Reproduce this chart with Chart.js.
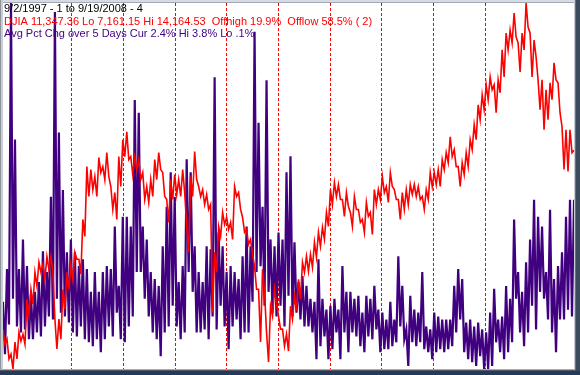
<!DOCTYPE html>
<html>
<head>
<meta charset="utf-8">
<script src="https://cdn.jsdelivr.net/npm/chart.js@4/dist/chart.umd.min.js"></script>
<style>
  html, body { margin: 0; padding: 0; background: #ffffff; }
  #wrap { width: 580px; height: 375px; }
</style>
</head>
<body>
<div id="wrap"><canvas id="chart" width="580" height="375"></canvas></div>
<script>
////data //////////////////////////////////////////////////////////////////////////////////////////////////////

// first and last trading day shown (decimal years): 9/2/1997 and 9/19/2008
const startYear = 1997.668;
const endYear = 2008.716;

// DJIA close, sampled evenly from start to end (high/low of each short stretch)
const djia = [
  7924, 7638, 7733, 7352, 7447, 7161, 7676, 7352, 7867, 7695, 7829, 7638,
  8497, 8210, 8687, 8401, 9012, 8745, 9203, 9012, 9164, 8878, 9317, 9069,
  9317, 9012, 8115, 7543, 8115, 7733, 8687, 8306, 9012, 8687, 9164, 8878,
  9393, 9260, 9260, 8974, 10023, 9699, 11034, 10462, 10977, 10595, 10843, 10462,
  11206, 10920, 11034, 10786, 11301, 10843, 10653, 10214, 10538, 10023, 11225, 10653,
  11549, 11225, 11702, 11168, 11225, 10882, 11225, 10977, 11168, 10786, 10920, 10405,
  10653, 10347, 10786, 10462, 11168, 10786, 11301, 10977, 10920, 10462, 10405, 9966,
  10786, 10405, 10882, 10500, 10786, 10462, 10977, 10538, 9889, 9393, 10843, 10462,
  11320, 10786, 10653, 10462, 10595, 10309, 10500, 10214, 10309, 8249, 9393, 9012,
  9889, 9699, 10157, 9928, 10061, 9832, 9966, 9641, 10653, 10462, 10538, 10214,
  10061, 9775, 9832, 9546, 9641, 9355, 9126, 8687, 8687, 7676, 9069, 8630,
  7867, 7295, 8363, 8172, 8687, 8401, 8172, 7924, 7924, 7600, 7829, 7504,
  8363, 8115, 8554, 8268, 8878, 8497, 9203, 9012, 9317, 9031, 9355, 9107,
  9584, 9298, 9775, 9508, 9870, 9641, 10157, 9889, 10595, 10309, 10729, 10462,
  10691, 10405, 10405, 10080, 10538, 10271, 10157, 9889, 10462, 10214, 10214, 9966,
  10023, 9775, 10347, 10080, 10157, 9737, 10595, 10309, 10595, 10405, 10843, 10538,
  10653, 10347, 10920, 10653, 10595, 10405, 10405, 10023, 10538, 10214, 10595, 10309,
  10691, 10500, 10691, 10462, 10653, 10405, 10462, 10214, 10595, 10405, 10920, 10653,
  10920, 10691, 10977, 10653, 11168, 10977, 11301, 11110, 11606, 11225, 11359, 11034,
  11034, 10653, 11110, 10882, 11301, 11034, 11549, 11359, 11836, 11549, 12217, 11931,
  12408, 12122, 12599, 12313, 12751, 12503, 12599, 12065, 12694, 12446, 13267, 12751,
  13591, 13267, 13648, 13400, 13973, 13515, 13400, 12847, 13591, 13267, 14164, 13705,
  13591, 12751, 13457, 13133, 12694, 12122, 12694, 11740, 12503, 11931, 12637, 12313,
  13019, 12694, 12637, 12065, 11797, 10977, 11740, 10939, 11740, 11301, 11347
];

// Avg Pct Chg over 5 Days (%), sampled evenly from start to end (high/low of each short stretch)
const avgPctChg = [
  0.78, 0.25, 1.11, 0.55, 3.80, 0.81, 2.42, 0.53, 1.11, 0.47, 1.41, 0.50,
  1.14, 0.40, 0.86, 0.40, 0.88, 0.47, 0.98, 0.43, 1.29, 0.53, 1.08, 0.63,
  1.84, 0.60, 3.71, 0.81, 2.49, 0.67, 1.91, 0.63, 1.28, 0.57, 1.41, 0.47,
  1.28, 0.43, 1.14, 0.53, 1.21, 0.40, 1.11, 0.37, 0.88, 0.33, 1.08, 0.40,
  0.88, 0.27, 1.08, 0.40, 1.14, 0.53, 1.11, 0.43, 1.54, 0.67, 0.94, 0.40,
  1.64, 0.37, 1.64, 0.53, 1.54, 0.63, 2.82, 1.08, 2.69, 1.08, 1.54, 0.81,
  1.41, 0.63, 1.08, 0.47, 1.01, 0.40, 0.94, 0.23, 1.34, 0.47, 1.74, 0.53,
  2.09, 0.74, 1.84, 0.53, 0.98, 0.40, 1.14, 0.47, 2.22, 1.08, 2.09, 0.88,
  1.34, 0.47, 1.08, 0.47, 0.98, 0.50, 1.34, 0.40, 1.31, 0.63, 3.05, 0.50,
  1.48, 0.74, 1.34, 0.53, 1.08, 0.30, 1.14, 0.53, 1.08, 0.60, 1.01, 0.40,
  1.24, 0.47, 1.54, 0.47, 1.34, 0.78, 3.51, 1.08, 2.59, 1.14, 1.74, 0.74,
  3.02, 0.88, 1.41, 0.67, 1.34, 0.63, 1.48, 0.74, 1.41, 0.53, 2.09, 0.84,
  2.25, 0.63, 1.38, 0.67, 0.98, 0.60, 1.04, 0.53, 0.94, 0.53, 0.81, 0.47,
  0.78, 0.20, 1.21, 0.33, 0.81, 0.43, 0.70, 0.20, 0.74, 0.30, 0.81, 0.47,
  0.70, 0.20, 1.14, 0.47, 0.88, 0.27, 0.88, 0.47, 0.81, 0.43, 0.84, 0.33,
  0.67, 0.27, 0.84, 0.43, 0.81, 0.40, 0.94, 0.50, 0.70, 0.27, 0.67, 0.30,
  0.60, 0.30, 0.78, 0.33, 0.60, 0.37, 1.24, 0.53, 0.94, 0.40, 0.50, 0.13,
  0.84, 0.37, 0.70, 0.33, 0.67, 0.37, 1.08, 0.30, 0.53, 0.27, 0.50, 0.20,
  0.67, 0.27, 0.63, 0.30, 0.60, 0.27, 0.60, 0.30, 0.60, 0.33, 0.94, 0.47,
  1.11, 0.60, 1.01, 0.27, 0.57, 0.20, 0.60, 0.17, 0.53, 0.13, 0.57, 0.23,
  0.50, 0.10, 0.47, 0.10, 0.67, 0.13, 0.91, 0.37, 0.60, 0.27, 0.63, 0.20,
  0.94, 0.27, 0.81, 0.37, 1.61, 0.81, 1.08, 0.47, 0.88, 0.33, 1.18, 0.47,
  1.41, 0.74, 1.81, 0.50, 1.64, 0.88, 1.54, 0.81, 1.08, 0.60, 1.71, 0.47,
  1.01, 0.27, 1.14, 0.60, 1.28, 0.60, 1.64, 0.70, 1.81, 0.63, 1.81
];

// header lines
const headerLines = [
  { text: "9/2/1997 - 1 to 9/19/2008 - 4", color: "#000000" },
  { text: "DJIA 11,347.36 Lo 7,161.15 Hi 14,164.53  Offhigh 19.9%  Offlow 58.5% ( 2)", color: "#ff0000" },
  { text: "Avg Pct Chg over 5 Days Cur 2.4% Hi 3.8% Lo .1%", color: "#400080" },
];

const djiaLo = 7161.15;
const djiaHi = 14164.53;
const avgLo = 0.1;
const avgHi = 3.8;

////data //////////////////////////////////////////////////////////////////////////////////////////////////////

//spread samples evenly over the date range
function toPoints(arr) {
  const step = (endYear - startYear) / (arr.length - 1);
  return arr.map((v, i) => ({ x: startYear + i * step, y: v }));
}

//window frame around the plot
const framePlugin = {
  id: "frame",
  beforeDraw(chart) {
    const c = chart.ctx;
    const w = chart.width, h = chart.height;
    c.save();
    c.fillStyle = "#ffffff";
    c.fillRect(0, 0, w, h);
    // top
    c.fillStyle = "#d6dae3";
    c.fillRect(0, 0, w, 2);
    c.fillStyle = "#a3a8b3";
    c.fillRect(0, 2, w, 1);
    // left
    c.fillStyle = "#8e939c";
    c.fillRect(0, 0, 1, h);
    c.fillStyle = "#c9cdd6";
    c.fillRect(1, 0, 2, h);
    // right
    c.fillStyle = "#c8ccd4";
    c.fillRect(w - 6, 0, 1, h);
    c.fillStyle = "#6b6f76";
    c.fillRect(w - 5, 0, 1, h);
    c.fillStyle = "#3c4a5e";
    c.fillRect(w - 4, 0, 4, h);
    // bottom
    c.fillStyle = "#a7abb3";
    c.fillRect(0, h - 6, w - 5, 1);
    c.fillStyle = "#555a62";
    c.fillRect(0, h - 5, w - 4, 1);
    c.fillStyle = "#233a5c";
    c.fillRect(0, h - 4, w, 4);
    c.restore();
  },
};

//text lines at the top left
const headerPlugin = {
  id: "header",
  afterDraw(chart) {
    const c = chart.ctx;
    c.save();
    c.font = '11px "Liberation Sans", Arial, sans-serif';
    c.textAlign = "left";
    c.textBaseline = "alphabetic";
    headerLines.forEach((line, i) => {
      c.fillStyle = line.color;
      c.fillText(line.text, 4, 12 + i * 12.5);
    });
    c.restore();
  },
};

////render chart //////////////////////////////////////////////////////////////////////////////////////////////
const ctx = document.getElementById("chart");
const myChart = new Chart(ctx, {
  type: "line",
  data: {
    datasets: [
      {
        label: "DJIA",
        data: toPoints(djia),
        borderColor: "#ff0000",
        borderWidth: 1.6,
        pointRadius: 0,
        tension: 0,
        yAxisID: "yDjia",
      },
      {
        label: "Avg Pct Chg over 5 Days",
        data: toPoints(avgPctChg),
        borderColor: "#400080",
        borderWidth: 2.2,
        pointRadius: 0,
        tension: 0,
        yAxisID: "yAvg",
      },
    ],
  },
  options: {
    responsive: false,
    animation: false,
    layout: { padding: { left: 3, top: 3, right: 6, bottom: 6 } },
    scales: {
      x: {
        type: "linear",
        min: startYear,
        max: endYear,
        ticks: { display: false, stepSize: 1 },
        afterBuildTicks: (scale) => {
          //only the year boundaries get a dashed line
          scale.ticks = scale.ticks.filter((t) => Math.abs(t.value - Math.round(t.value)) < 1e-6);
        },
        grid: { color: "#ff0000", lineWidth: 1, drawTicks: false },
        border: { display: false, dash: [3, 2] },
      },
      yDjia: { display: false, min: djiaLo, max: djiaHi },
      yAvg: { display: false, min: avgLo, max: avgHi },
    },
    plugins: {
      legend: { display: false },
      tooltip: { enabled: false },
    },
  },
  plugins: [framePlugin, headerPlugin],
});
</script>
</body>
</html>
